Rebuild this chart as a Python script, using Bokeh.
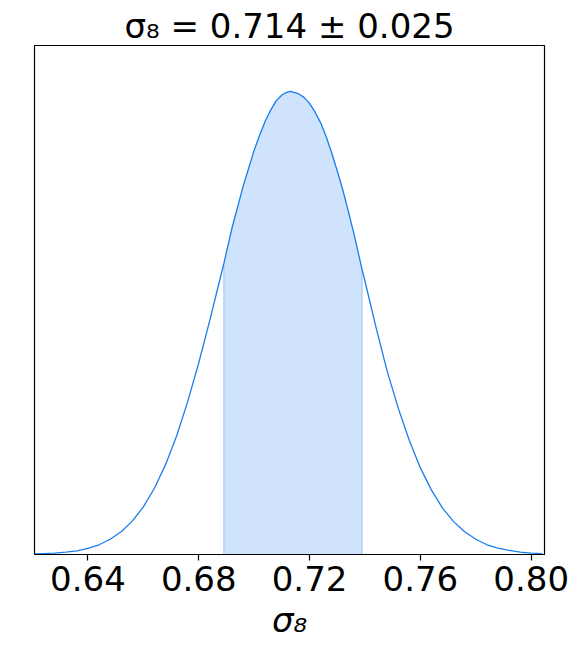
from bokeh.plotting import figure
from bokeh.models import Range1d, FixedTicker
from bokeh.embed import file_html
from bokeh.resources import INLINE

# ---- data ----
sigma8 = [0.620, 0.624, 0.628, 0.632, 0.636, 0.640, 0.644, 0.648, 0.652, 0.656,
          0.660, 0.664, 0.668, 0.672, 0.676, 0.680, 0.684, 0.688, 0.689, 0.692,
          0.696, 0.700, 0.702, 0.704, 0.706, 0.708, 0.710, 0.711, 0.713, 0.716,
          0.718, 0.720, 0.722, 0.724, 0.726, 0.728, 0.730, 0.732, 0.734, 0.736,
          0.739, 0.740, 0.744, 0.748, 0.752, 0.756, 0.760, 0.764, 0.768, 0.772,
          0.776, 0.780, 0.784, 0.788, 0.792, 0.796, 0.800, 0.804]
density = [0.001, 0.002, 0.003, 0.005, 0.008, 0.013, 0.021, 0.033, 0.049, 0.072,
           0.103, 0.143, 0.194, 0.256, 0.330, 0.414, 0.506, 0.603, 0.627, 0.705,
           0.795, 0.873, 0.906, 0.936, 0.960, 0.980, 0.992, 0.996, 1.000, 0.995,
           0.987, 0.974, 0.955, 0.932, 0.902, 0.867, 0.828, 0.787, 0.741, 0.693,
           0.614, 0.590, 0.490, 0.396, 0.316, 0.246, 0.187, 0.139, 0.100, 0.071,
           0.049, 0.033, 0.021, 0.014, 0.009, 0.005, 0.003, 0.002]
mean = 0.714
err = 0.025
tick_values = [0.64, 0.68, 0.72, 0.76, 0.80]
tick_labels = ["0.64", "0.68", "0.72", "0.76", "0.80"]
param_label = "σ₈"

lo, hi = mean - err, mean + err
inside = [lo - 1e-9 <= x <= hi + 1e-9 for x in sigma8]
shade_x = [x for x, k in zip(sigma8, inside) if k]
shade_y = [d for d, k in zip(density, inside) if k]

BLUE = "#006FED"
FONT = "DejaVu Sans"

p = figure(frame_width=510, frame_height=509,
           min_border_left=34, min_border_right=27,
           min_border_top=45, min_border_bottom=92,
           x_range=Range1d(0.6207, 0.8048), y_range=Range1d(0, 1.099),
           output_backend="svg", toolbar_location=None,
           background_fill_color="white", border_fill_color="white")

p.title.text = f"{param_label} = {mean:.3f} ± {err:.3f}"
p.title.text_font = FONT
p.title.text_font_size = "34px"
p.title.text_font_style = "normal"
p.title.text_color = "black"
p.title.align = "center"
p.title.standoff = 0

p.grid.visible = False
p.yaxis.visible = False
p.outline_line_color = "black"
p.outline_line_width = 1.2

ax = p.xaxis[0]
ax.ticker = FixedTicker(ticks=tick_values)
ax.major_label_overrides = {v: s for v, s in zip(tick_values, tick_labels)}
ax.major_label_text_font = FONT
ax.major_label_text_font_size = "34px"
ax.major_label_text_color = "black"
ax.major_tick_out = 6
ax.major_tick_in = 0
ax.minor_tick_line_color = None
ax.axis_line_color = "black"
ax.axis_line_width = 1.2
ax.major_tick_line_color = "black"
ax.major_tick_line_width = 1.2
ax.major_label_standoff = 5
ax.axis_label = param_label
ax.axis_label_text_font = FONT
ax.axis_label_text_font_size = "34px"
ax.axis_label_text_font_style = "italic"
ax.axis_label_text_color = "black"
ax.axis_label_standoff = 6

# shaded 68% region
p.varea(x=shade_x, y1=[0] * len(shade_x), y2=shade_y,
        fill_color=BLUE, fill_alpha=0.19)
p.segment(x0=[shade_x[0], shade_x[-1]], y0=[0, 0],
          x1=[shade_x[0], shade_x[-1]], y1=[shade_y[0], shade_y[-1]],
          line_color=BLUE, line_alpha=0.2, line_width=1.5)

# posterior curve
p.line(sigma8, density, line_color=BLUE, line_width=1.3, line_alpha=0.9)

open("out.html", "w").write(file_html(p, INLINE))
